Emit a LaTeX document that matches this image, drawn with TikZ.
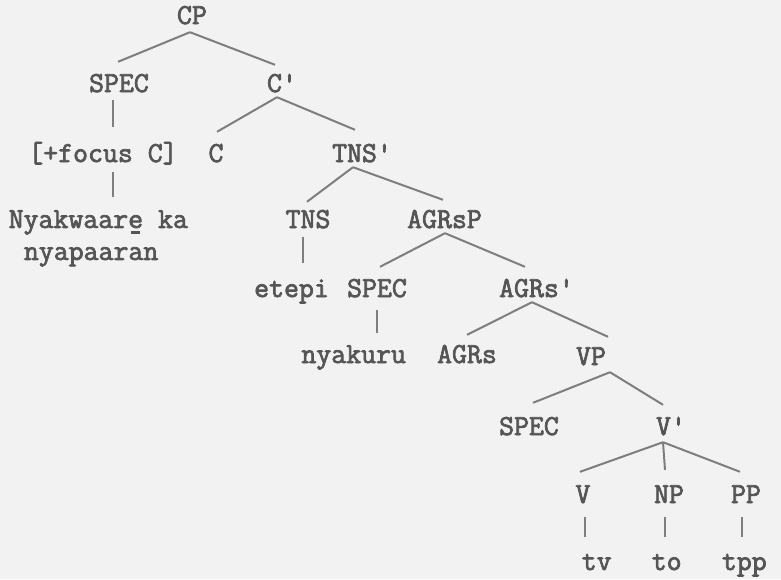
\documentclass[tikz,border=0pt]{standalone}
\usepackage{fontspec}
\newfontfamily\treefont{Latin Modern Mono}[FakeBold=2.5]
\definecolor{bggray}{HTML}{F2F2F2}
\definecolor{txtgray}{HTML}{555555}
\definecolor{lngray}{HTML}{7E7E7E}
\newcommand\ebar{\ooalign{e\cr\hidewidth\rule[-0.2em]{0.33em}{0.08em}\hidewidth\cr}}
\tikzset{
  tn/.style={font=\treefont\fontsize{29}{32}\selectfont, text=txtgray, inner sep=0pt, text height=18pt, text depth=0pt, anchor=base},
  br/.style={draw=lngray, line width=2pt},
  un/.style={draw=lngray, line width=2pt}
}
\begin{document}
\begin{tikzpicture}[x=1pt,y=-1pt]
\fill[bggray] (0,0) rectangle (781,579);
\useasboundingbox (0,0) rectangle (781,579);
% nodes
\node[tn] (cp) at (192,24) {CP};
\node[tn] (spec1) at (119,92) {SPEC};
\node[tn] (cbar) at (282,92) {C'};
\node[tn] (focus) at (103,162) {[+focus C]};
\node[tn] (c) at (216,162) {C};
\node[tn] (tnsbar) at (362,162) {TNS'};
\node[tn, text height=, anchor=north west, align=left] (nyak) at (8.5,210) {Nyakwaar\ebar{} ka\\\hspace*{0.525em}nyapaaran};
\node[tn] (tns) at (308,228) {TNS};
\node[tn] (agrsp) at (444.5,228) {AGRsP};
\node[tn] (etepi) at (291.5,297) {etepi};
\node[tn] (spec2) at (377,297) {SPEC};
\node[tn] (agrsbar) at (536.5,297) {AGRs'};
\node[tn] (nyakuru) at (353.7,363) {nyakuru};
\node[tn] (agrs) at (467,363) {AGRs};
\node[tn] (vp) at (591,365) {VP};
\node[tn] (spec3) at (529,435) {SPEC};
\node[tn] (vbar) at (671,435) {V'};
\node[tn] (v) at (583,503) {V};
\node[tn] (np) at (669,503) {NP};
\node[tn] (pp) at (746,503) {PP};
\node[tn] (tv) at (596.7,570) {tv};
\node[tn] (to) at (666.7,570) {to};
\node[tn] (tpp) at (744.3,570) {tpp};
% branches
\draw[br] ([xshift=-2pt,yshift=-8pt]cp.south) -- ([xshift=-1pt,yshift=12pt]spec1.north);
\draw[br] ([xshift=-2pt,yshift=-8pt]cp.south) -- ([xshift=-7pt,yshift=9pt]cbar.north);
\draw[br] ([xshift=-5pt,yshift=-5pt]cbar.south) -- ([xshift=1pt,yshift=12pt]c.north);
\draw[br] ([xshift=-5pt,yshift=-5pt]cbar.south) -- ([xshift=-7pt,yshift=14pt]tnsbar.north);
\draw[br] ([xshift=-9pt,yshift=-5pt]tnsbar.south) -- ([xshift=-1pt,yshift=8pt]tns.north);
\draw[br] ([xshift=-9pt,yshift=-5pt]tnsbar.south) -- ([xshift=-1.5pt,yshift=10pt]agrsp.north);
\draw[br] ([xshift=0.5pt,yshift=-5pt]agrsp.south) -- ([xshift=3pt,yshift=12pt]spec2.north);
\draw[br] ([xshift=0.5pt,yshift=-5pt]agrsp.south) -- ([xshift=-11.5pt,yshift=12pt]agrsbar.north);
\draw[br] ([xshift=-4.5pt,yshift=-5pt]agrsbar.south) -- ([yshift=10pt]agrs.north);
\draw[br] ([xshift=-4.5pt,yshift=-5pt]agrsbar.south) -- ([xshift=17pt,yshift=10pt]vp.north);
\draw[br] ([xshift=19pt,yshift=-7pt]vp.south) -- ([xshift=4pt,yshift=14pt]spec3.north);
\draw[br] ([xshift=19pt,yshift=-7pt]vp.south) -- ([xshift=-8pt,yshift=12pt]vbar.north);
\draw[br] ([xshift=-8pt,yshift=-7pt]vbar.south) -- ([xshift=-3pt,yshift=13pt]v.north);
\draw[br] ([xshift=-8pt,yshift=-7pt]vbar.south) -- ([xshift=-4pt,yshift=15pt]np.north);
\draw[br] ([xshift=-8pt,yshift=-7pt]vbar.south) -- ([xshift=-6pt,yshift=13pt]pp.north);
% unary lines
\draw[un] ([xshift=-6pt,yshift=-8pt]spec1.south) -- ([xshift=-6pt,yshift=17pt]spec1.south |- focus.north);
\draw[un] ([xshift=10pt,yshift=-10pt]focus.south) -- ([xshift=10pt,yshift=13pt]focus.south |- nyak.north);
\draw[un] ([xshift=-5pt,yshift=-9pt]tns.south) -- ([xshift=-5pt,yshift=16pt]tns.south |- etepi.north);
\draw[un] ([yshift=-13pt]spec2.south) -- ([yshift=12pt]spec2.south |- nyakuru.north);
\draw[un] ([xshift=2pt,yshift=-14pt]v.south) -- ([xshift=2pt,yshift=15pt]v.south |- tv.north);
\draw[un] ([xshift=-4pt,yshift=-14pt]np.south) -- ([xshift=-4pt,yshift=15pt]np.south |- to.north);
\draw[un] ([xshift=-4pt,yshift=-14pt]pp.south) -- ([xshift=-4pt,yshift=15pt]pp.south |- tpp.north);
\end{tikzpicture}
\end{document}
